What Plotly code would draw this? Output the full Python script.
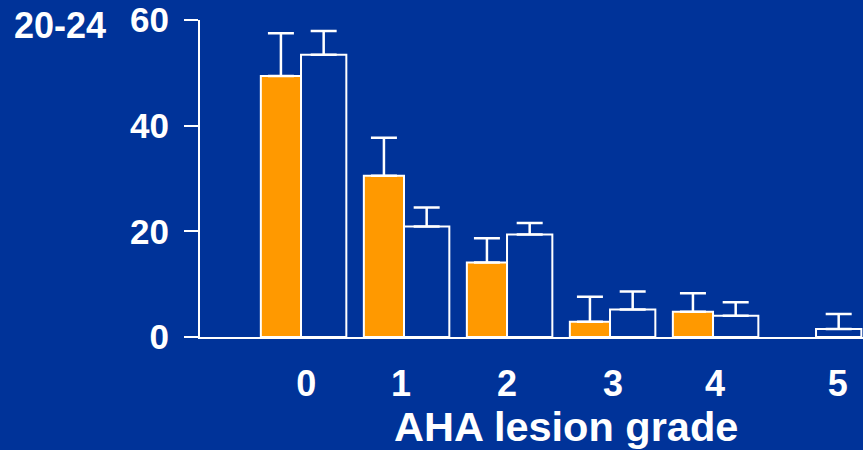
import plotly.graph_objects as go

grades = [0, 1, 2, 3, 4, 5]
grade_labels = ["0", "1", "2", "3", "4", "5"]
group_a = [49.4, 30.5, 14.1, 2.9, 4.8, None]
group_a_err = [8.1, 7.2, 4.6, 4.7, 3.5, None]
group_b = [53.4, 20.9, 19.4, 5.2, 4.0, 1.5]
group_b_err = [4.5, 3.6, 2.2, 3.4, 2.6, 2.85]
y_ticks = [0, 20, 40, 60]
age_label = "20-24"
x_title = "AHA lesion grade"

BG = "#003399"
ORANGE = "#FF9900"
WHITE = "#FFFFFF"
FONT = "Liberation Sans, Arial, sans-serif"

# label positions (slightly irregular in the original)
tick_pos = [0.05, 0.97, 2.0, 3.03, 4.02, 5.21]

fig = go.Figure()
fig.add_trace(go.Bar(
    x=grades, y=group_a, width=0.39, offset=-0.39,
    marker=dict(color=ORANGE, line=dict(color=WHITE, width=2)),
    error_y=dict(type="data", symmetric=False, array=group_a_err,
                 arrayminus=[0] * 6, color=WHITE, thickness=2.5, width=13),
    showlegend=False,
))
fig.add_trace(go.Bar(
    x=grades, y=group_b, width=0.44, offset=0.0,
    marker=dict(color=BG, line=dict(color=WHITE, width=2)),
    error_y=dict(type="data", symmetric=False, array=group_b_err,
                 arrayminus=[0] * 6, color=WHITE, thickness=2.5, width=13),
    showlegend=False,
))

fig.update_layout(
    width=863, height=450,
    margin=dict(l=200, r=0, t=20, b=113),
    paper_bgcolor=BG, plot_bgcolor=BG,
    barmode="overlay",
    font=dict(family=FONT, color=WHITE),
    xaxis=dict(
        range=[-0.9806, 5.456], showgrid=False, zeroline=False,
        showline=True, linecolor=WHITE, linewidth=2,
        tickmode="array", tickvals=tick_pos, ticktext=grade_labels,
        ticks="", tickfont=dict(size=36, family=FONT, color=WHITE, weight="bold"),
        ticklabelstandoff=14,
    ),
    yaxis=dict(
        range=[0, 60], showgrid=False, zeroline=False,
        showline=True, linecolor=WHITE, linewidth=2,
        tickmode="array", tickvals=y_ticks,
        ticks="outside", ticklen=14, tickwidth=2, tickcolor=WHITE,
        tickfont=dict(size=35, family=FONT, color=WHITE, weight="bold"),
        ticklabelstandoff=8,
    ),
    annotations=[
        dict(text=x_title, xref="paper", yref="paper", x=0.552, y=-0.283,
             xanchor="center", yanchor="middle", showarrow=False,
             font=dict(size=41.5, family=FONT, color=WHITE, weight="bold")),
        dict(text=age_label, xref="paper", yref="paper", x=-0.211, y=0.984,
             xanchor="center", yanchor="middle", showarrow=False,
             font=dict(size=36, family=FONT, color=WHITE, weight="bold")),
    ],
)

fig.write_html("out.html")
